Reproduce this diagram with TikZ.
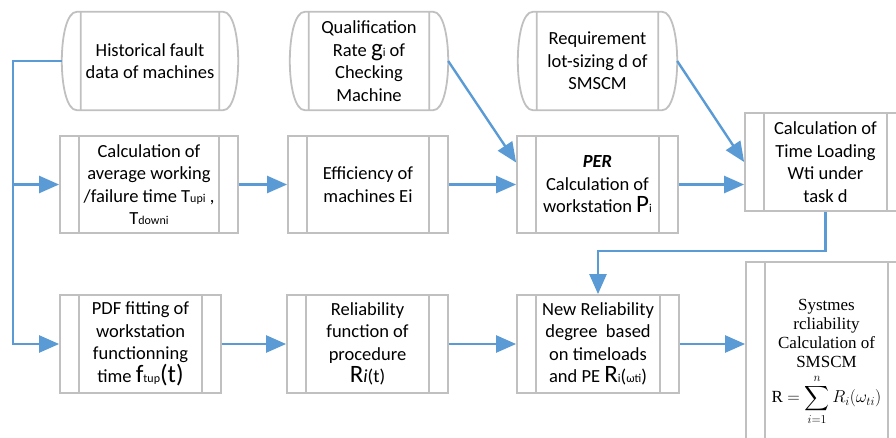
\documentclass[tikz,border=0pt]{standalone}
\usepackage{exscale}
\usepackage{fontspec}
\setmainfont{Carlito}
\newfontfamily\timesfont{Liberation Serif}
\usetikzlibrary{arrows.meta,calc}

\definecolor{flowblue}{HTML}{5B9BD5}
\definecolor{boxgray}{HTML}{C0C0C0}
\newcommand{\boxfont}{\fontsize{18.5}{22.5}\selectfont}
\newcommand{\bigsym}[1]{{\fontsize{25}{22.5}\selectfont #1}}
\newcommand{\smsub}[1]{{\fontsize{12}{12}\selectfont #1}}

\tikzset{
  boxline/.style={draw=boxgray, line width=1.8pt},
  sidebars/.style={path picture={
    \draw[boxline] ([xshift=19pt]path picture bounding box.north west) -- ([xshift=19pt]path picture bounding box.south west)
      ([xshift=-19pt]path picture bounding box.north east) -- ([xshift=-19pt]path picture bounding box.south east);}},
  procbox/.style={boxline, rectangle, minimum width=161pt, minimum height=98pt, inner sep=2pt, align=center, font=\boxfont, sidebars},
  storebox/.style={rectangle, minimum height=98pt, inner sep=2pt, align=center, font=\boxfont},
  flow/.style={->, draw=flowblue, line width=2.4pt},
}

\begin{document}
\begin{tikzpicture}[x=1pt,y=-1pt,>={Triangle[length=20pt,width=17pt]}]

\clip (0,0) rectangle (896,437);

% top row: input data
\node[storebox, minimum width=176pt] (hist) at (150,61) {Historical fault\\data of machines};
\node[storebox, minimum width=158pt] (qual) at (369,61) {Qualification\\Rate \bigsym{g}\smsub{i} of\\Checking\\Machine};
\node[storebox, minimum width=159pt] (req) at (597.5,61) {Requirement\\lot-sizing d of\\SMSCM};

\foreach \n in {hist,qual,req} {
  \draw[boxline] ([xshift=19pt]\n.north west) -- ([xshift=19pt]\n.south west)
    ([xshift=-19pt]\n.north east) -- ([xshift=-19pt]\n.south east)
    ([xshift=15pt]\n.north west) -- ([xshift=-15pt]\n.north east)
    .. controls ([xshift=5pt]\n.north east) and ([xshift=5pt]\n.south east) .. ([xshift=-15pt]\n.south east)
    -- ([xshift=15pt]\n.south west)
    .. controls ([xshift=-5pt]\n.south west) and ([xshift=-5pt]\n.north west) .. ([xshift=15pt]\n.north west) -- cycle;
}

% middle row
\node[procbox, minimum width=178pt, minimum height=97pt] (avgtime) at (149,184.5) {Calculation of\\average working\\/failure time T\smsub{upi} ,\\T\smsub{downi}};
\node[procbox, minimum width=160pt, minimum height=97pt] (effic) at (368,184.5) {Efficiency of\\machines Ei};
\node[procbox, minimum height=97pt] (per) at (597.5,184.5) {\textbf{\textit{PER}}\\Calculation of\\workstation \bigsym{P}\smsub{i}};
\node[procbox] (timeload) at (825.5,162) {Calculation of\\Time Loading\\Wti under\\task d};

% bottom row
\node[procbox] (pdffit) at (140.5,344) {PDF fitting of\\workstation\\functionning\\time \bigsym{f}\smsub{tup}\bigsym{(t)}};
\node[procbox] (relfun) at (367.5,344) {Reliability\\function of\\procedure\\\bigsym{R}{\itshape i}(t)};
\node[procbox, minimum width=162pt] (relpe) at (598,344) {New Reliability\\degree\ \ based\\on timeloads\\and PE \bigsym{R}\smsub{i}(\smsub{ωti})};
\node[procbox, minimum height=200pt, font=\timesfont\fontsize{17}{19}\selectfont] (sysrel) at (826.5,362) {Systmes\\rcliability\\Calculation of\\SMSCM\\[6pt]R $=\displaystyle\sum_{i=1}^{n}R_i(\omega_{ti})$};

% connectors
\draw[flow] (hist.west) -- ++(-49,0) |- (avgtime.west);
\draw[flow] (hist.west) -- ++(-49,0) |- (pdffit.west);
\draw[flow] (avgtime) -- (effic);
\draw[flow] (effic) -- (per);
\draw[flow] (qual.east) -- ([yshift=22pt]per.west);
\draw[flow] (per.east) -- (per.east -| timeload.west);
\draw[flow] (req.east) -- (timeload.west);
\draw[flow] (timeload.south) -- ++(0,39) -| (relpe.north);
\draw[flow] (pdffit) -- (relfun);
\draw[flow] (relfun) -- (relpe);
\draw[flow] (relpe.east) -- (relpe.east -| sysrel.west);

\end{tikzpicture}
\end{document}
